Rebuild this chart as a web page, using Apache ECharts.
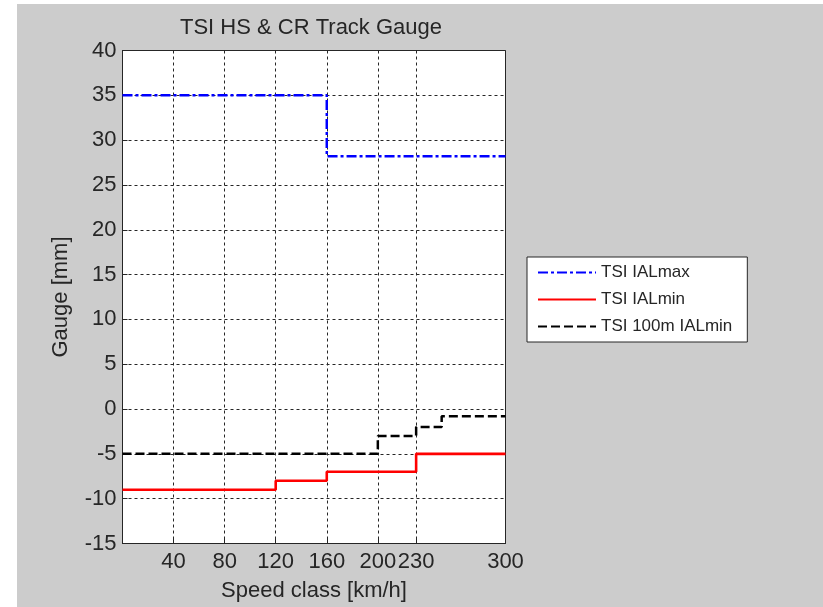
<!DOCTYPE html>
<html>
<head>
<meta charset="utf-8">
<title>TSI HS &amp; CR Track Gauge</title>
<script src="https://cdn.jsdelivr.net/npm/echarts@6/dist/echarts.min.js"></script>
<style>
  html, body { margin: 0; padding: 0; background: #ffffff; }
  #chart { width: 823px; height: 607px; }
</style>
</head>
<body>
<div id="chart"></div>
<script>
// Speed classes (km/h) where each limit changes, and the gauge limits (mm)
const speedMax = [0, 160, 300];
const ialMax = [35, 28.2, 28.2];

const speedMin = [0, 120, 160, 230, 300];
const ialMin = [-9, -8, -7, -5, -5];

const speed100 = [0, 200, 230, 250, 300];
const ial100 = [-5, -3, -2, -0.8, -0.8];

const xTicks = [40, 80, 120, 160, 200, 230, 300];

const seriesNames = ['TSI IALmax', 'TSI IALmin', 'TSI 100m IALmin'];

const FONT = '"Liberation Sans", Arial, sans-serif';
const INK = '#262626';

function pairs(xs, ys) {
  return xs.map((x, i) => [x, ys[i]]);
}

const chart = echarts.init(document.getElementById('chart'), null, { renderer: 'canvas' });

chart.setOption({
  animation: false,
  backgroundColor: '#ffffff',
  textStyle: { fontFamily: FONT, color: INK },
  graphic: {
    elements: [{
      type: 'rect',
      z: -100,
      silent: true,
      shape: { x: 17, y: 4, width: 806, height: 603 },
      style: { fill: '#cccccc' }
    }]
  },
  title: {
    text: 'TSI HS & CR Track Gauge',
    left: 175,
    top: 12,
    textStyle: { fontFamily: FONT, fontSize: 22, fontWeight: 'normal', color: INK }
  },
  grid: {
    left: 122.5,
    top: 50.5,
    width: 383,
    height: 493,
    show: true,
    backgroundColor: '#ffffff',
    borderColor: INK,
    borderWidth: 1,
    containLabel: false
  },
  legend: {
    orient: 'vertical',
    left: 527,
    top: 257,
    data: seriesNames,
    padding: [7, 15, 7, 10],
    itemGap: 10,
    itemWidth: 58,
    itemHeight: 14,
    itemStyle: { opacity: 0 },
    backgroundColor: '#ffffff',
    borderColor: INK,
    borderWidth: 1,
    borderRadius: 0,
    textStyle: { fontFamily: FONT, fontSize: 17, color: INK }
  },
  xAxis: {
    type: 'value',
    min: 0,
    max: 300,
    name: 'Speed class [km/h]',
    nameLocation: 'middle',
    nameGap: 36,
    nameTextStyle: { fontFamily: FONT, fontSize: 22, color: INK },
    axisLine: { show: true, onZero: false, lineStyle: { color: INK, width: 1 } },
    axisTick: { show: true, inside: true, length: 5, customValues: xTicks, lineStyle: { color: INK } },
    axisLabel: { customValues: xTicks, margin: 7, fontFamily: FONT, fontSize: 22, color: INK },
    splitLine: { show: true, lineStyle: { color: INK, width: 1, type: [3, 3] } }
  },
  yAxis: {
    type: 'value',
    min: -15,
    max: 40,
    interval: 5,
    name: 'Gauge [mm]',
    nameLocation: 'middle',
    nameGap: 51,
    nameTextStyle: { fontFamily: FONT, fontSize: 22, color: INK },
    axisLine: { show: true, onZero: false, lineStyle: { color: INK, width: 1 } },
    axisTick: { show: true, inside: true, length: 5, lineStyle: { color: INK } },
    axisLabel: { margin: 6, fontFamily: FONT, fontSize: 22, color: INK },
    splitLine: { show: true, lineStyle: { color: INK, width: 1, type: [3, 3] } }
  },
  series: [
    {
      name: seriesNames[0],
      type: 'line',
      step: 'end',
      symbol: 'none',
      data: pairs(speedMax, ialMax),
      lineStyle: { color: '#0000ff', width: 2.5, type: [10, 3, 3, 3] },
      itemStyle: { color: '#0000ff' },
      z: 4
    },
    {
      name: seriesNames[1],
      type: 'line',
      step: 'end',
      symbol: 'none',
      data: pairs(speedMin, ialMin),
      lineStyle: { color: '#ff0000', width: 2.6, type: 'solid' },
      itemStyle: { color: '#ff0000' },
      z: 3
    },
    {
      name: seriesNames[2],
      type: 'line',
      step: 'end',
      symbol: 'none',
      data: pairs(speed100, ial100),
      lineStyle: { color: '#000000', width: 2.5, type: [9, 4] },
      itemStyle: { color: '#000000' },
      z: 5
    }
  ]
});
</script>
</body>
</html>
